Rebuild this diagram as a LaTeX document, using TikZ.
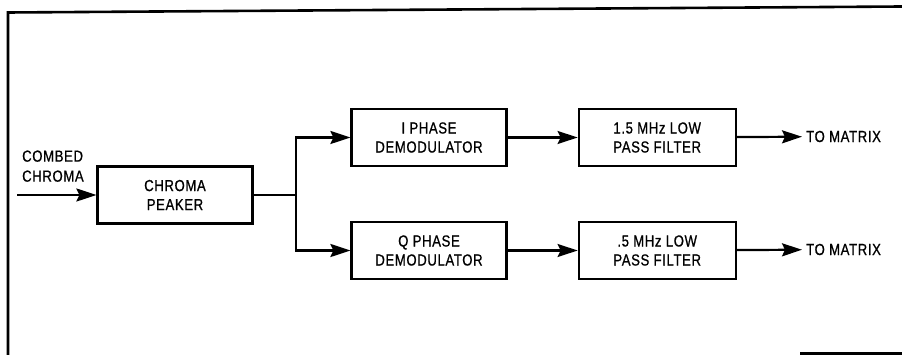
\documentclass[tikz,border=0pt]{standalone}
\usepackage{fontspec}
\setmainfont{Liberation Sans}[FakeStretch=0.82, LetterSpace=4, FakeBold=0.8]
\usepackage{tikz}
\usetikzlibrary{arrows.meta,positioning}

\begin{document}
\begin{tikzpicture}[
    x=1pt, y=-1pt,
    node distance=70pt and 70pt,
    block/.style={rectangle, draw=black, line width=2.2pt, minimum width=155pt,
        minimum height=57pt, inner sep=0pt, align=center,
        font=\fontsize{16}{19}\selectfont},
    lbl/.style={inner sep=4pt, align=left, font=\fontsize{16}{20}\selectfont},
    arr/.style={-{Stealth[length=20pt, width=13pt, inset=3pt]}, line width=2.2pt},
    wire/.style={line width=2.2pt},
    frame/.style={line width=2.6pt}
]
\useasboundingbox (0,0) rectangle (902,355);

% outer frame
\draw[frame] (902,6.5) -- (8,12.5) -- (8,355);
\draw[frame] (800,353.5) -- (902,353.5);

\node[block] (peak) at (175,195) {CHROMA\\PEAKER};
\node[block] (idem) at (429,137.5) {I PHASE\\DEMODULATOR};
\node[block] (qdem) at (429,250.5) {Q PHASE\\DEMODULATOR};
\node[block, right=of idem, minimum width=157pt] (ifilt) {1.5 MHz LOW\\PASS FILTER};
\node[block, right=of qdem, minimum width=157pt] (qfilt) {.5 MHz LOW\\PASS FILTER};

\node[lbl, anchor=south west] (cin) at (18,186) {COMBED\\CHROMA};
\coordinate (src) at (17,195);
\coordinate (fork) at (296,195);
\node[lbl, anchor=west] (iout) at (802,136.5) {TO MATRIX};
\node[lbl, anchor=west] (qout) at (802,249.5) {TO MATRIX};

\draw[arr] (src) -- (peak);
\draw[wire] (peak) -- (fork);
\draw[arr] (fork) |- (idem);
\draw[arr] (fork) |- (qdem);
\draw[arr] (idem) -- (ifilt);
\draw[arr] (qdem) -- (qfilt);
\draw[arr] (ifilt) -- (iout);
\draw[arr] (qfilt) -- (qout);
\end{tikzpicture}
\end{document}
